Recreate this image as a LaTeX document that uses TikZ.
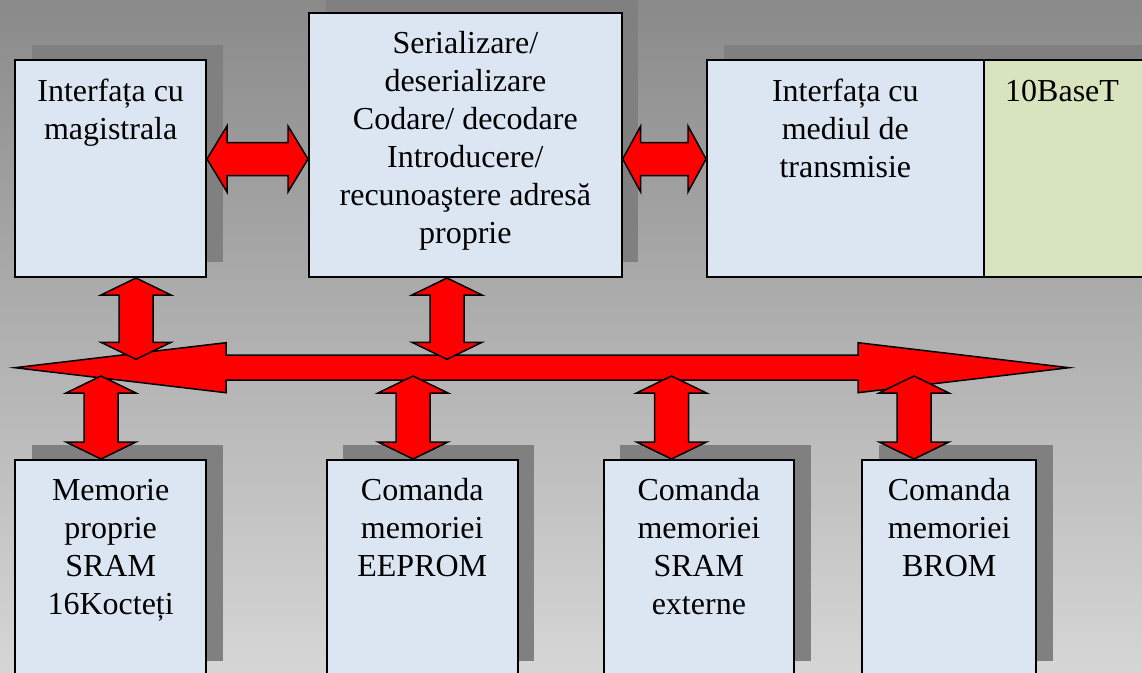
\documentclass[tikz,border=0pt]{standalone}
\usepackage{fontspec}
\setmainfont{Liberation Serif}
\usetikzlibrary{calc,shadows}
\definecolor{boxblue}{RGB}{220,230,242}
\definecolor{boxgreen}{RGB}{215,228,189}
\definecolor{shadowgray}{RGB}{128,128,128}
\definecolor{bgtop}{RGB}{138,138,138}
\definecolor{bgbot}{RGB}{214,214,214}
\definecolor{arrowred}{RGB}{255,0,0}
\tikzset{
  box/.style={draw=black, line width=2pt, fill=boxblue, rectangle, inner sep=0pt,
    anchor=north west,
    drop shadow={shadow xshift=16.5pt, shadow yshift=15.5pt, fill=shadowgray, opacity=1}},
  lbl/.style={font=\fontsize{32}{38}\selectfont, align=center, inner sep=0pt, anchor=north, text=black},
  bigarrow/.style={draw=black, line width=1.5pt, fill=arrowred, line join=miter},
}
% horizontal double arrow: left tip, right tip, head length, head half-width, shaft half-width
\newcommand\dblH[5]{\path[bigarrow] let \p1=(#1), \p2=(#2) in
  (\x1,\y1) -- (\x1+#3pt,\y1+#4pt) -- (\x1+#3pt,\y1+#5pt) -- (\x2-#3pt,\y1+#5pt)
  -- (\x2-#3pt,\y1+#4pt) -- (\x2,\y1) -- (\x2-#3pt,\y1-#4pt) -- (\x2-#3pt,\y1-#5pt)
  -- (\x1+#3pt,\y1-#5pt) -- (\x1+#3pt,\y1-#4pt) -- cycle;}
% vertical double arrow: top tip, bottom tip, head length, head half-width, shaft half-width
\newcommand\dblV[5]{\path[bigarrow] let \p1=(#1), \p2=(#2) in
  (\x1,\y1) -- (\x1+#4pt,\y1-#3pt) -- (\x1+#5pt,\y1-#3pt) -- (\x1+#5pt,\y2+#3pt)
  -- (\x1+#4pt,\y2+#3pt) -- (\x1,\y2) -- (\x1-#4pt,\y2+#3pt) -- (\x1-#5pt,\y2+#3pt)
  -- (\x1-#5pt,\y1-#3pt) -- (\x1-#4pt,\y1-#3pt) -- cycle;}
\begin{document}
\begin{tikzpicture}[x=1pt,y=-1pt]
\useasboundingbox (0,0) rectangle (1142,672);
\clip (0,0) rectangle (1142,672);
\shade[top color=bgtop, bottom color=bgbot] (0,0) rectangle (1142,672);

% top row
\node[box, minimum width=190.7pt, minimum height=216.7pt] (b1) at (14.3,59.3) {};
\node[box, minimum width=312.7pt, minimum height=264.3pt] (b2) at (308,11.7) {};
\node[box, minimum width=276.7pt, minimum height=216.7pt] (b3) at (706,59.3) {};
\node[box, fill=boxgreen, minimum width=220pt, minimum height=216.7pt] (b10) at (982.7,59.3) {};

% bottom row
\node[box, minimum width=190.7pt, minimum height=216pt] (b4) at (14.3,459) {};
\node[box, minimum width=191.1pt, minimum height=216pt] (b5) at (325.7,459) {};
\node[box, minimum width=190.3pt, minimum height=216pt] (b6) at (602.7,459) {};
\node[box, minimum width=173.6pt, minimum height=216pt] (b7) at (861.4,459) {};

% labels
\node[lbl] (t1) at ([yshift=-19.5pt]b1.north) {\rule{0pt}{22pt}Interfața cu\\magistrala};
\node[lbl] (t2) at ([yshift=-19.5pt]b2.north) {\rule{0pt}{22pt}Serializare/\\deserializare\\Codare/ decodare\\Introducere/\\recunoaştere adresă\\proprie};
\node[lbl] (t3) at ([yshift=-19.5pt]b3.north) {\rule{0pt}{22pt}Interfața cu\\mediul de\\transmisie};
\node[lbl, anchor=north west] (t10) at (1005,78.8) {\rule{0pt}{22pt}10BaseT};
\node[lbl] (t4) at ([yshift=-19.5pt]b4.north) {\rule{0pt}{22pt}Memorie\\proprie\\SRAM\\16Kocteți};
\node[lbl] (t5) at ([yshift=-19.5pt]b5.north) {\rule{0pt}{22pt}Comanda\\memoriei\\EEPROM};
\node[lbl] (t6) at ([yshift=-19.5pt]b6.north) {\rule{0pt}{22pt}Comanda\\memoriei\\SRAM\\externe};
\node[lbl] (t7) at ([yshift=-19.5pt]b7.north) {\rule{0pt}{22pt}Comanda\\memoriei\\BROM};

% bus
\coordinate (busL) at (15,367.7);
\coordinate (busR) at (1069,367.7);
\dblH{busL}{busR}{211}{25}{12.5}

% junctions on the bus
\coordinate (j1) at (136,359.3);
\coordinate (j2) at (447,359.3);
\coordinate (k4) at (101,376);
\coordinate (k5) at (413,376);
\coordinate (k6) at (671.5,376);
\coordinate (k7) at (914,376);

% vertical arrows
\dblV{j1 |- b1.south}{j1}{17}{35}{17}
\dblV{j2 |- b2.south}{j2}{17}{35}{17}
\dblV{k4}{k4 |- b4.north}{17}{35}{17}
\dblV{k5}{k5 |- b5.north}{17}{35}{17}
\dblV{k6}{k6 |- b6.north}{17}{35}{17}
\dblV{k7}{k7 |- b7.north}{17}{35}{17}

% horizontal arrows between top boxes
\dblH{b1.east |- 0,159}{b2.west |- 0,159}{20}{33}{16.5}
\dblH{b2.east |- 0,159}{b3.west |- 0,159}{18}{33}{16.5}
\end{tikzpicture}
\end{document}
